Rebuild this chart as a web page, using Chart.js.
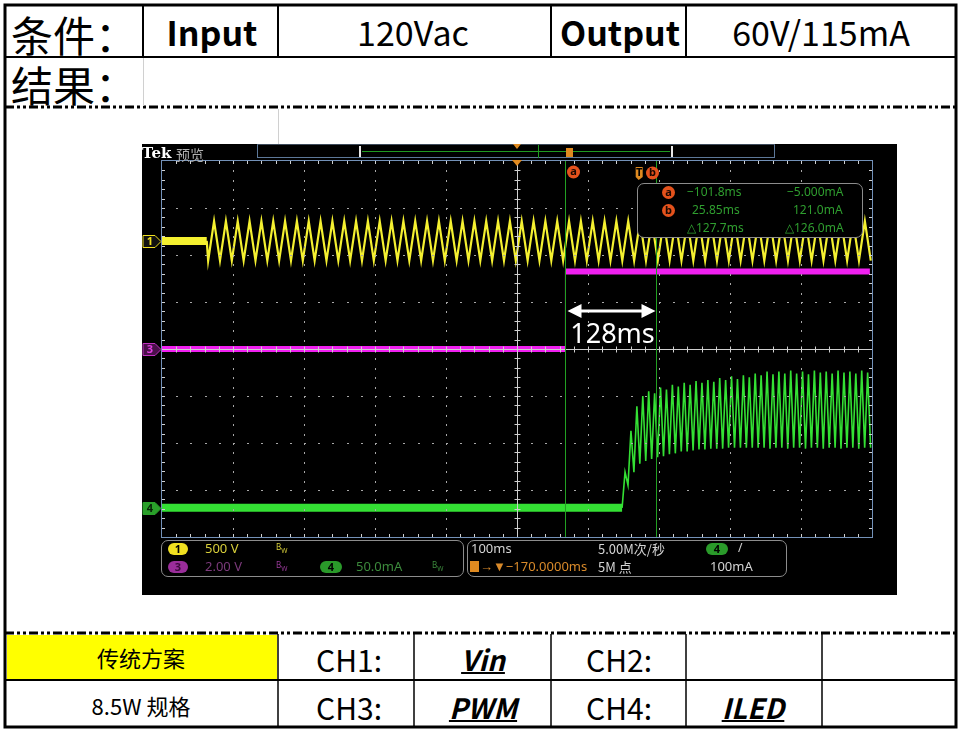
<!DOCTYPE html>
<html>
<head>
<meta charset="utf-8">
<script src="https://cdn.jsdelivr.net/npm/chart.js@4.4.1/dist/chart.umd.min.js"></script>
<style>
body { margin: 0; width: 964px; height: 734px; background: #fff; position: relative; overflow: hidden;
       font-family: "Noto Sans CJK SC", "Noto Sans", sans-serif; }
.abs { position: absolute; white-space: nowrap; line-height: 1; }
.c { transform: translate(-50%, -50%); }
.l { transform: translateY(-50%); }
.em { font-weight: bold; font-style: italic; text-decoration: underline; text-decoration-thickness: 2px; }
#scope { position: absolute; left: 142px; top: 144px; }
.sc { position: absolute; white-space: nowrap; line-height: 1; font-family: "Noto Sans", sans-serif; font-size: 12px; }
.pill { position: absolute; height: 12px; border-radius: 6px; font: bold 11px "Noto Sans", sans-serif;
        text-align: center; line-height: 12px; }
.dot { position: absolute; width: 13px; height: 13px; border-radius: 50%; background: #e4521c; color: #1a0800;
       font: bold 11px "Noto Sans", sans-serif; text-align: center; line-height: 12px; }
.box { position: absolute; background: #000; border: 1px solid #8c8c8c; border-radius: 7px; box-sizing: border-box; }
</style>
</head>
<body>

<svg width="964" height="734" style="position:absolute;left:0;top:0">
  <g stroke="#000" fill="none">
    <rect x="5" y="5" width="951" height="722" stroke-width="3"/>
    <line x1="5" y1="57" x2="956" y2="57" stroke-width="2"/>
    <line x1="143" y1="5" x2="143" y2="57" stroke-width="2"/>
    <line x1="278" y1="5" x2="278" y2="57" stroke-width="2"/>
    <line x1="551" y1="5" x2="551" y2="57" stroke-width="2"/>
    <line x1="686" y1="5" x2="686" y2="57" stroke-width="2"/>
    <line x1="5" y1="107" x2="956" y2="107" stroke-width="3" stroke-dasharray="9 3 3 3 3 3"/>
    <line x1="5" y1="633" x2="956" y2="633" stroke-width="3" stroke-dasharray="9 3 3 3 3 3"/>
    <line x1="5" y1="680" x2="956" y2="680" stroke-width="2"/>
    <line x1="278" y1="634" x2="278" y2="727" stroke-width="1.5"/>
    <line x1="414" y1="634" x2="414" y2="727" stroke-width="1.5"/>
    <line x1="551" y1="634" x2="551" y2="727" stroke-width="1.5"/>
    <line x1="686" y1="634" x2="686" y2="727" stroke-width="1.5"/>
    <line x1="822" y1="634" x2="822" y2="727" stroke-width="1.5"/>
  </g>
  <line x1="143.5" y1="58" x2="143.5" y2="106" stroke="#d0d0d0" stroke-width="1"/>
  <line x1="278.5" y1="109" x2="278.5" y2="144" stroke="#d0d0d0" stroke-width="1"/>
  <rect x="7" y="635" width="270" height="44" fill="#ffff00"/>
</svg>

<div class="abs l" style="left:11px;top:34px;font-size:42px">条件：</div>
<div class="abs c" style="left:212px;top:32px;font-size:34px;font-weight:bold">Input</div>
<div class="abs c" style="left:413px;top:32px;font-size:34px">120Vac</div>
<div class="abs c" style="left:620px;top:32px;font-size:34px;font-weight:bold">Output</div>
<div class="abs c" style="left:821px;top:32px;font-size:34px">60V/115mA</div>
<div class="abs l" style="left:11px;top:84px;font-size:42px">结果：</div>

<div class="abs c" style="left:141px;top:657px;font-size:22px">传统方案</div>
<div class="abs c" style="left:141px;top:705px;font-size:22px">8.5W 规格</div>
<div class="abs c" style="left:349px;top:659px;font-size:30px">CH1:</div>
<div class="abs c em" style="left:483px;top:659px;font-size:28px">Vin</div>
<div class="abs c" style="left:619px;top:659px;font-size:30px">CH2:</div>
<div class="abs c" style="left:349px;top:707px;font-size:30px">CH3:</div>
<div class="abs c em" style="left:483px;top:707px;font-size:28px">PWM</div>
<div class="abs c" style="left:619px;top:707px;font-size:30px">CH4:</div>
<div class="abs c em" style="left:753px;top:707px;font-size:28px">ILED</div>

<canvas id="scope" width="755" height="451"></canvas>

<!-- scope header -->
<div class="sc" style="left:142px;top:144px;font:bold 15px 'DejaVu Serif',serif;color:#fff">Tek</div>
<div class="sc" style="left:176px;top:144px;font:14px 'Noto Sans CJK SC';color:#b0b0b0">预览</div>
<div class="sc" style="left:257px;top:144px;width:518px;height:14px;border:1px solid #5d7899;border-top-color:#3d4a5a;background:#000;box-sizing:border-box"></div>
<div class="sc" style="left:362px;top:151px;width:308px;height:1px;background:#1f9a1f"></div>
<div class="sc" style="left:359px;top:146px;width:2px;height:11px;background:#e8e8e8"></div>
<div class="sc" style="left:671px;top:146px;width:2px;height:11px;background:#e8e8e8"></div>
<div class="sc" style="left:538px;top:145px;width:1px;height:13px;background:#1f9a1f"></div>
<div class="sc" style="left:566px;top:148px;width:7px;height:9px;background:#e08a20"></div>
<div class="sc" style="left:513px;top:144px;width:0;height:0;border-left:4px solid transparent;border-right:4px solid transparent;border-top:5px solid #e08a20"></div>

<!-- cursor readout -->
<div class="box" style="left:637px;top:183px;width:226px;height:55px"></div>
<div class="dot" style="left:662px;top:186px">a</div>
<div class="dot" style="left:662px;top:204px">b</div>
<div class="sc" id="ra" style="left:687px;top:186px;color:#2f9e2f"></div>
<div class="sc" id="rb" style="left:692px;top:204px;color:#2f9e2f"></div>
<div class="sc" id="rd" style="left:687px;top:222px;color:#2f9e2f"></div>
<div class="sc" id="ia" style="left:787px;top:186px;color:#2f9e2f"></div>
<div class="sc" id="ib" style="left:793px;top:204px;color:#2f9e2f"></div>
<div class="sc" id="id" style="left:785px;top:222px;color:#2f9e2f"></div>

<!-- channel / timebase readouts -->
<div class="box" style="left:161px;top:540px;width:303px;height:37px"></div>
<div class="pill" style="left:168px;top:543px;width:20px;background:#f0e020;color:#000">1</div>
<div class="sc" style="left:205px;top:542px;color:#d8cf3a;font-size:13px">500 V</div>
<div class="sc" style="left:276px;top:543px;font-size:8px;color:#d8cf3a">B<sub>W</sub></div>
<div class="pill" style="left:168px;top:561px;width:20px;background:#9a2d9a;color:#3a0a3a">3</div>
<div class="sc" style="left:205px;top:560px;color:#7b3a7b;font-size:13px">2.00 V</div>
<div class="sc" style="left:276px;top:561px;font-size:8px;color:#9a3a9a">B<sub>W</sub></div>
<div class="pill" style="left:320px;top:561px;width:22px;background:#2a9a2a;color:#000">4</div>
<div class="sc" style="left:356px;top:560px;color:#3c8a3c;font-size:13px">50.0mA</div>
<div class="sc" style="left:432px;top:561px;font-size:8px;color:#3c8a3c">B<sub>W</sub></div>

<div class="box" style="left:467px;top:540px;width:320px;height:37px"></div>
<div class="sc" style="left:471px;top:542px;color:#d4d4d4;font-size:13px">100ms</div>
<div class="sc" style="left:470px;top:561px;width:9px;height:11px;background:#e08a20"></div>
<div class="sc" style="left:480px;top:560px;color:#d98a2a;font-size:13px">→▼−170.0000ms</div>
<div class="sc" style="left:598px;top:542px;color:#d4d4d4;font-family:'Noto Sans CJK SC';font-size:13px">5.00M次/秒</div>
<div class="sc" style="left:598px;top:560px;color:#d4d4d4;font-family:'Noto Sans CJK SC';font-size:13px">5M 点</div>
<div class="pill" style="left:706px;top:543px;width:22px;background:#2a9a2a;color:#000">4</div>
<div class="sc" style="left:738px;top:542px;color:#d4d4d4">/</div>
<div class="sc" style="left:710px;top:560px;color:#d4d4d4;font-size:13px">100mA</div>

<script>
// time window of the screen (ms): 100 ms/div, 10 divisions, centre at -170 ms
const timeMinMs = -670;
const timeMaxMs = 330;

// CH1 Vin (V): flat before the AC is switched on, then one value per half cycle (60 Hz)
const ch1FlatMs = [-670, -607];
const ch1StartMs = -605;
const ch1HalfCycleMs = 8.333;
const ch1Volts = [
  -210, 210, -210, 210, -210, 210, -210, 210, -210, 210, -210, 210, -210, 210, -210, 210,
  -210, 210, -210, 210, -210, 210, -210, 210, -210, 210, -210, 210, -210, 210, -210, 210,
  -210, 210, -210, 210, -210, 210, -210, 210, -210, 210, -210, 210, -210, 210, -210, 210,
  -210, 210, -210, 210, -210, 210, -210, 210, -210, 210, -210, 210, -210, 210, -210, 210,
  -210, 210, -210, 210, -210, 210, -210, 210, -210, 210, -210, 210, -210, 210, -210, 210,
  -210, 210, -210, 210, -210, 210, -210, 210, -210, 210, -210, 210, -210, 210, -210, 210,
  -210, 210, -210, 210, -210, 210, -210, 210, -210, 210, -210, 210, -210, 210, -210, 210,
  -210
];

// CH3 PWM (V)
const ch3Ms = [-670, -101.8, -101.8, 327];
const ch3Volts = [0, 0, 3.3, 3.3];

// CH4 ILED (mA): zero until start-up, then ripple peaks / troughs every half ripple period (120 Hz)
const ch4FlatMs = [-670];
const ch4StartMs = -22;
const ch4HalfRippleMs = 4.167;
const ch4MilliAmps = [
  0, 38, 24, 82, 38, 108, 47, 119, 50, 124, 52, 122, 54,
  128, 55, 126, 57, 131, 58, 129, 60, 133, 60, 131, 61, 135, 62, 133, 62, 136, 63, 134, 63,
  138, 63, 136, 64, 140, 64, 137, 64, 141, 64, 139, 64, 143, 64, 141,
  64, 145, 63, 142, 64, 145, 64, 143, 63, 146, 64, 143, 64, 145, 63, 142, 64, 146, 64, 144,
  63, 145, 64, 143, 64, 146, 63, 144, 64, 145, 64, 143, 63, 146, 64, 144, 64
];

// cursors a / b (ms) and their readout
const cursorMs = [-101.8, 25.85];
const cursorTimeText = ['−101.8ms', '25.85ms', '△127.7ms'];
const cursorValueText = ['−5.000mA', '121.0mA', '△126.0mA'];
const spanLabel = '128ms';

// vertical settings: units per division, zero marker position in divisions above centre
const ch1Scale = [500, 2.3];
const ch3Scale = [2, 0];
const ch4Scale = [50, -3.38];

function sampled(startMs, stepMs, values) {
  return values.map((v, i) => ({ x: startMs + i * stepMs, y: v }));
}
function axis(s) {
  return { type: 'linear', display: false, min: (-4 - s[1]) * s[0], max: (4 - s[1]) * s[0] };
}

['ra', 'rb', 'rd'].forEach((id, i) => document.getElementById(id).textContent = cursorTimeText[i]);
['ia', 'ib', 'id'].forEach((id, i) => document.getElementById(id).textContent = cursorValueText[i]);

const ch1Data = ch1FlatMs.map(t => ({ x: t, y: 0 })).concat(sampled(ch1StartMs, ch1HalfCycleMs, ch1Volts));
const ch3Data = ch3Ms.map((t, i) => ({ x: t, y: ch3Volts[i] }));
const ch4Data = ch4FlatMs.map(t => ({ x: t, y: 0 })).concat(sampled(ch4StartMs, ch4HalfRippleMs, ch4MilliAmps));

const scopeScreen = {
  id: 'scopeScreen',
  beforeDraw(chart) {
    const c = chart.ctx;
    c.save();
    c.fillStyle = '#000';
    c.fillRect(0, 0, chart.width, chart.height);
    c.restore();
  },
  afterDatasetsDraw(chart) {
    const c = chart.ctx, a = chart.chartArea, sx = chart.scales.x;
    const dx = (a.right - a.left) / 10, dy = (a.bottom - a.top) / 8;
    c.save();

    // dotted graticule
    c.fillStyle = '#a8a8a8';
    for (let i = 1; i < 10; i++) {
      if (i === 5) continue;
      const gx = Math.round(a.left + i * dx);
      for (let j = 1; j < 40; j++) c.fillRect(gx, Math.round(a.top + j * dy / 5), 1, 2);
    }
    for (let j = 1; j < 8; j++) {
      if (j === 4) continue;
      const gy = Math.round(a.top + j * dy);
      for (let i = 1; i < 50; i++) c.fillRect(Math.round(a.left + i * dx / 5), gy, 2, 1);
    }

    // centre cross + minor ticks
    const cx = Math.round(a.left + 5 * dx) + 0.5, cy = Math.round(a.top + 4 * dy) + 0.5;
    c.strokeStyle = '#cfcfcf';
    c.lineWidth = 1;
    c.beginPath();
    c.moveTo(cx, a.top); c.lineTo(cx, a.bottom);
    c.moveTo(a.left, cy); c.lineTo(a.right, cy);
    for (let i = 1; i < 50; i++) {
      const tx = Math.round(a.left + i * dx / 5) + 0.5;
      c.moveTo(tx, cy - 3); c.lineTo(tx, cy + 3);
      c.moveTo(tx, a.top); c.lineTo(tx, a.top + 3);
      c.moveTo(tx, a.bottom); c.lineTo(tx, a.bottom - 3);
    }
    for (let j = 1; j < 40; j++) {
      const ty = Math.round(a.top + j * dy / 5) + 0.5;
      c.moveTo(cx - 3, ty); c.lineTo(cx + 3, ty);
      c.moveTo(a.left, ty); c.lineTo(a.left + 3, ty);
      c.moveTo(a.right, ty); c.lineTo(a.right - 3, ty);
    }
    c.stroke();

    // frame
    c.strokeStyle = '#7391b8';
    c.strokeRect(a.left - 0.5, a.top - 0.5, a.right - a.left + 1, a.bottom - a.top + 1);

    // cursors
    c.strokeStyle = '#22a022';
    const cur = cursorMs.map(t => Math.round(sx.getPixelForValue(t)) + 0.5);
    c.beginPath();
    cur.forEach(px => { c.moveTo(px, a.top); c.lineTo(px, a.bottom); });
    c.stroke();

    // cursor tags
    c.font = 'bold 11px "Noto Sans"';
    c.textAlign = 'center';
    c.textBaseline = 'middle';
    const tag = (x, y, ch) => {
      c.fillStyle = '#e4521c';
      c.beginPath(); c.arc(x, y, 6.5, 0, Math.PI * 2); c.fill();
      c.fillStyle = '#1a0800'; c.fillText(ch, x, y);
    };
    tag(cur[0] + 8, a.top + 11, 'a');
    tag(cur[1] - 4, a.top + 12, 'b');
    const tx0 = sx.getPixelForValue(0);
    c.fillStyle = '#e08a20';
    c.beginPath();
    c.moveTo(tx0 - 2, a.top + 6); c.lineTo(tx0 + 5, a.top + 6); c.lineTo(tx0 + 5, a.top + 16);
    c.lineTo(tx0 + 1, a.top + 19); c.lineTo(tx0 - 2, a.top + 16); c.closePath(); c.fill();
    c.fillStyle = '#000';
    c.fillText('T', tx0 + 1.5, a.top + 12);

    // trigger position marker
    const tc = sx.getPixelForValue(-170);
    c.fillStyle = '#e08a20';
    c.beginPath(); c.moveTo(tc - 5, a.top - 1); c.lineTo(tc + 5, a.top - 1); c.lineTo(tc, a.top + 5); c.closePath(); c.fill();

    // channel markers
    const marker = (id, label, stroke, fill, text) => {
      const y = Math.round(chart.scales[id].getPixelForValue(0)) + 0.5;
      c.beginPath();
      c.moveTo(1, y - 6); c.lineTo(13, y - 6); c.lineTo(19, y); c.lineTo(13, y + 6); c.lineTo(1, y + 6); c.closePath();
      c.fillStyle = fill; c.fill();
      c.strokeStyle = stroke; c.lineWidth = 1; c.stroke();
      c.fillStyle = text; c.font = 'bold 11px "Noto Sans"';
      c.fillText(label, 8, y + 0.5);
    };
    marker('y1', '1', '#f0e020', '#111', '#f0e020');
    marker('y3', '3', '#c030c0', '#4a104a', '#e040e0');
    marker('y4', '4', '#2aa02a', '#2aa02a', '#062006');

    // span annotation between the cursors
    const ay = Math.round(a.top + 3.2 * dy);
    const x0 = cur[0] + 2, x1 = cur[1] - 1;
    c.strokeStyle = '#fff'; c.fillStyle = '#fff'; c.lineWidth = 3;
    c.beginPath(); c.moveTo(x0 + 10, ay); c.lineTo(x1 - 10, ay); c.stroke();
    c.beginPath(); c.moveTo(x0, ay); c.lineTo(x0 + 14, ay - 7); c.lineTo(x0 + 14, ay + 7); c.closePath(); c.fill();
    c.beginPath(); c.moveTo(x1, ay); c.lineTo(x1 - 14, ay - 7); c.lineTo(x1 - 14, ay + 7); c.closePath(); c.fill();
    c.font = '27px "Noto Sans"';
    c.textAlign = 'center';
    c.textBaseline = 'middle';
    c.fillText(spanLabel, (x0 + x1) / 2 + 1, ay + 24);

    c.restore();
  }
};

new Chart(document.getElementById('scope'), {
  type: 'line',
  data: {
    datasets: [
      {
        label: 'CH1', data: ch1Data, yAxisID: 'y1', borderColor: '#f4f030', borderWidth: 2.2,
        segment: { borderWidth: ctx => ctx.p0DataIndex === 0 ? 8 : 2.2 }
      },
      {
        label: 'CH3', data: ch3Data, yAxisID: 'y3', borderColor: '#f020f0', borderWidth: 6,
        segment: { borderWidth: ctx => ctx.p0DataIndex === 1 ? 1 : 6 }
      },
      {
        label: 'CH4', data: ch4Data, yAxisID: 'y4', borderColor: '#34e034', borderWidth: 1.6,
        segment: { borderWidth: ctx => ctx.p0DataIndex === 0 ? 8 : 1.6 }
      }
    ]
  },
  options: {
    responsive: false,
    animation: false,
    devicePixelRatio: 1,
    parsing: false,
    layout: { padding: { left: 20, right: 25, top: 17, bottom: 58 } },
    elements: { point: { radius: 0 }, line: { tension: 0 } },
    plugins: { legend: { display: false }, tooltip: { enabled: false } },
    scales: {
      x: { type: 'linear', display: false, min: timeMinMs, max: timeMaxMs },
      y1: axis(ch1Scale),
      y3: axis(ch3Scale),
      y4: axis(ch4Scale)
    }
  },
  plugins: [scopeScreen]
});
</script>
</body>
</html>
